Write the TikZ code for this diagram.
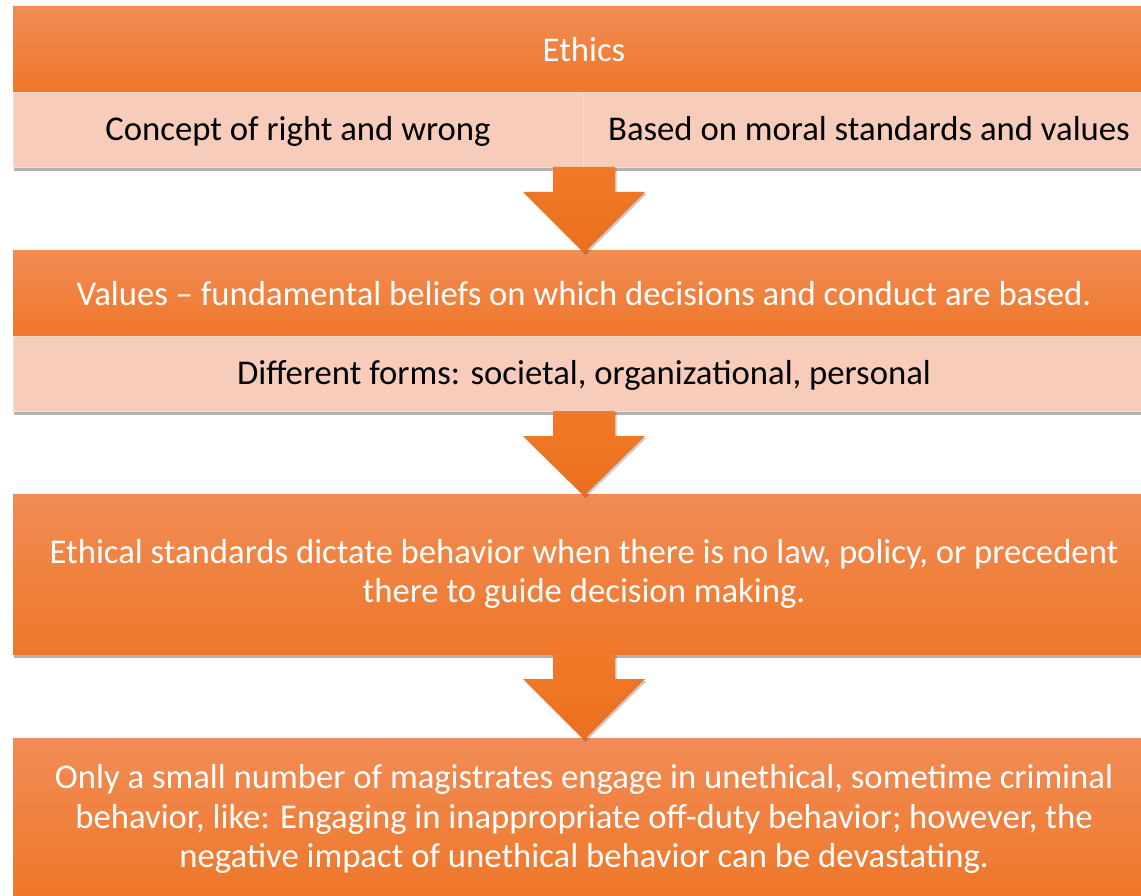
\documentclass[tikz,border=0pt]{standalone}
\usepackage{fontspec}
\setmainfont{Carlito}
\usetikzlibrary{positioning,calc,shadows}

\definecolor{bandtop}{HTML}{F18C56}
\definecolor{bandbottom}{HTML}{EF7729}
\definecolor{lightband}{HTML}{F7CCBA}
\definecolor{lightedge}{HTML}{FADBCE}
\definecolor{arrowtop}{HTML}{F07A28}
\definecolor{arrowbottom}{HTML}{EB6F1F}

% block arrow from the bottom of one box to the top of the next
\newcommand{\flowarrow}[2]{%
  \shade[arrowfill] ($(#1.south)+(-31,0)$) -- ($(#1.south)+(31,0)$) -- ($(#1.south)+(31,25)$)
    -- ($(#1.south)+(61,25)$) -- ($(#2.north)+(0,2)$) -- ($(#1.south)+(-61,25)$)
    -- ($(#1.south)+(-31,25)$) -- cycle;}

\begin{document}
\begin{tikzpicture}[
    x=1pt, y=-1pt,
    orangebox/.style={rectangle, inner sep=0pt, outer sep=0pt, minimum width=1142pt, align=center,
      top color=bandtop, bottom color=bandbottom, text=white, font=\fontsize{34.7}{39.5}\selectfont,
      drop shadow={shadow xshift=0.5pt, shadow yshift=-4pt, opacity=0.3, fill=black}},
    lightbox/.style={rectangle, inner sep=0pt, outer sep=0pt, minimum height=75pt, align=center,
      text height=27pt, text depth=5pt,
      fill=lightband, draw=lightedge, line width=0.6pt, text=black, font=\fontsize{34.7}{39.5}\selectfont,
      drop shadow={shadow xshift=0.5pt, shadow yshift=-4pt, opacity=0.3, fill=black}},
    arrowfill/.style={top color=arrowtop, bottom color=arrowbottom,
      drop shadow={shadow xshift=1.5pt, shadow yshift=-2pt, opacity=0.2, fill=black}}
]
\clip (0,0) rectangle (1141,896);

\node[orangebox, minimum height=85pt, anchor=north west] (ethics) at (13,7) {Ethics};
\node[lightbox, minimum width=570pt, anchor=north west] (concept) at (ethics.south west) {Concept of right and wrong};
\node[lightbox, minimum width=572pt, anchor=north west] (moral) at (concept.north east) {Based on moral standards and values};

\node[orangebox, minimum height=85pt, anchor=north west] (values) at (13,251) {Values -- fundamental beliefs on which decisions and conduct are based.};
\node[lightbox, minimum width=1142pt, anchor=north west] (forms) at (values.south west) {Different forms: societal, organizational, personal};

\node[orangebox, minimum height=160pt, anchor=north west, text depth=6pt] (standards) at (13,494)
  {Ethical standards dictate behavior when there is no law, policy, or precedent\\there to guide decision making.};

\node[orangebox, minimum height=160pt, anchor=north west, text depth=4pt] (magistrates) at (13,738)
  {Only a small number of magistrates engage in unethical, sometime criminal\\behavior, like: Engaging in inappropriate off-duty behavior; however, the\\negative impact of unethical behavior can be devastating.};

\coordinate (ethicsbase) at ($(concept.south west)!0.5!(moral.south east)$);
\flowarrow{forms}{standards}
\flowarrow{standards}{magistrates}
\shade[arrowfill] ($(ethicsbase)+(-31,0)$) -- ($(ethicsbase)+(31,0)$) -- ($(ethicsbase)+(31,25)$)
  -- ($(ethicsbase)+(61,25)$) -- ($(values.north)+(0,2)$) -- ($(ethicsbase)+(-61,25)$)
  -- ($(ethicsbase)+(-31,25)$) -- cycle;

\end{tikzpicture}
\end{document}
